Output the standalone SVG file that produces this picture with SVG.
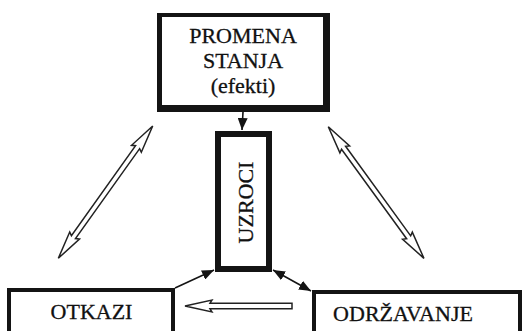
<svg xmlns="http://www.w3.org/2000/svg" width="523" height="331" viewBox="0 0 523 331">
  <style>
    .lbl { font-family: "Liberation Serif", "DejaVu Serif", serif; font-size: 22px; fill: #111; stroke: #111; stroke-width: 0.3; text-anchor: middle; }
    .box { fill: #fff; stroke: #141414; }
    .link { stroke: #141414; stroke-width: 1.6; fill: none; }
    .hollow { fill: #fff; stroke: #222; stroke-width: 1.5; stroke-linejoin: miter; }
  </style>
  <defs>
    <marker id="head" viewBox="0 0 12 10" refX="12" refY="5" markerWidth="12" markerHeight="10" markerUnits="userSpaceOnUse" orient="auto-start-reverse">
      <path d="M0,0 L12,5 L0,10 Z" fill="#141414"/>
    </marker>
  </defs>

  <!-- state change (effects) -->
  <g id="promena">
    <rect x="157" y="13" width="173" height="99" fill="#141414"/>
    <rect x="162" y="17" width="161" height="88" fill="#fff"/>
    <text class="lbl" x="243" y="43">PROMENA</text>
    <text class="lbl" x="243" y="68">STANJA</text>
    <text class="lbl" x="243" y="93">(efekti)</text>
  </g>

  <!-- causes -->
  <g id="uzroci">
    <rect class="box" x="218" y="134" width="51" height="135" stroke-width="6"/>
    <text class="lbl" transform="translate(253,202.5) rotate(-90)">UZROCI</text>
  </g>

  <!-- failures -->
  <g id="otkazi">
    <rect class="box" x="9" y="290" width="164" height="50" stroke-width="4"/>
    <text class="lbl" x="91.5" y="319">OTKAZI</text>
  </g>

  <!-- maintenance -->
  <g id="odrzavanje">
    <rect class="box" x="314" y="292" width="206" height="50" stroke-width="4"/>
    <text class="lbl" x="403" y="321">ODRŽAVANJE</text>
  </g>

  <g id="connectors">
    <!-- effects -> causes -->
    <line class="link" x1="243" y1="112" x2="242" y2="130" marker-end="url(#head)"/>
    <!-- failures -> causes -->
    <line class="link" x1="175" y1="288" x2="214" y2="270" marker-end="url(#head)"/>
    <!-- causes <-> maintenance -->
    <line class="link" x1="273" y1="270" x2="311" y2="291" marker-start="url(#head)" marker-end="url(#head)"/>

    <!-- hollow two-way arrow: failures <-> effects -->
    <g transform="translate(152.7,126) rotate(125.5)">
      <polygon class="hollow" points="0,0 28,-6 26,-2.5 136.5,-2.5 134.5,-6 162.5,0 134.5,6 136.5,2.5 26,2.5 28,6"/>
    </g>
    <!-- hollow two-way arrow: effects <-> maintenance -->
    <g transform="translate(328.3,126.7) rotate(54)">
      <polygon class="hollow" points="0,0 28,-6 26,-2.5 136.7,-2.5 134.7,-6 162.7,0 134.7,6 136.7,2.5 26,2.5 28,6"/>
    </g>
    <!-- hollow arrow: maintenance -> failures -->
    <polygon class="hollow" points="185,306 212,300 210,303.2 292,303.2 292,308.8 210,308.8 212,312"/>
  </g>
</svg>
